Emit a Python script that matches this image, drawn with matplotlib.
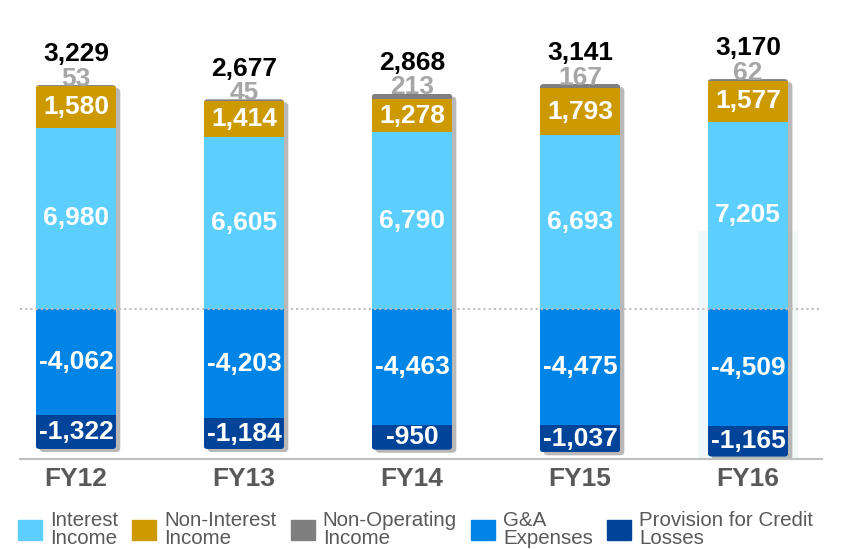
import matplotlib
matplotlib.use('Agg')
import matplotlib.pyplot as plt
import numpy as np
from matplotlib.patches import FancyBboxPatch, Patch

plt.rcParams['font.family'] = ['Liberation Sans', 'DejaVu Sans']

years = ['FY12', 'FY13', 'FY14', 'FY15', 'FY16']
interest = np.array([6980, 6605, 6790, 6693, 7205])
non_interest = np.array([1580, 1414, 1278, 1793, 1577])
non_operating = np.array([53, 45, 213, 167, 62])
ga_expenses = np.array([-4062, -4203, -4463, -4475, -4509])
provision = np.array([-1322, -1184, -950, -1037, -1165])
totals = interest + non_interest + non_operating + ga_expenses + provision

legend_labels = ['Interest\nIncome', 'Non-Interest\nIncome', 'Non-Operating\nIncome',
                 'G&A\nExpenses', 'Provision for Credit\nLosses']
colors = ['#5ccfff', '#cc9900', '#7f7f7f', '#0084e6', '#00449a']

W, H = 844, 549
fig = plt.figure(figsize=(W / 100, H / 100), dpi=100)
ax = fig.add_axes([20 / W, 1 - 459 / H, 802 / W, 459 / H])

xlim = (-0.333, 4.44)
ylim = (-5769, 11885)
ax.set_xlim(*xlim)
ax.set_ylim(*ylim)
px_x = 802 / (xlim[1] - xlim[0])   # pixels per x unit
px_y = 459 / (ylim[1] - ylim[0])   # pixels per y unit

x = np.arange(len(years))
w = 0.48

# faint highlight behind last year
ax.bar(x[-1], 3000 - ylim[0], bottom=ylim[0], width=100 / px_x, color='#f1f8f9', zorder=0)

tops = interest + non_interest + non_operating
bottoms = ga_expenses + provision

clips = []
for i in x:
    r = 4 / px_x
    aspect = px_x / px_y
    sh = FancyBboxPatch((i - w / 2 + 4 / px_x, bottoms[i] - 3 / px_y), w, tops[i] - bottoms[i],
                        boxstyle=f'round,pad=0,rounding_size={r}', mutation_aspect=aspect,
                        facecolor='#a6a6a6', edgecolor='none', alpha=0.8, zorder=1,
                        transform=ax.transData)
    ax.add_patch(sh)
    cp = FancyBboxPatch((i - w / 2, bottoms[i]), w, tops[i] - bottoms[i],
                        boxstyle=f'round,pad=0,rounding_size={r}', mutation_aspect=aspect,
                        facecolor='none', edgecolor='none', transform=ax.transData)
    clips.append(cp)

series = [
    (interest, 0),
    (non_interest, interest),
    (non_operating, interest + non_interest),
    (ga_expenses, 0),
    (provision, ga_expenses),
]
for (vals, base), c in zip(series, colors):
    bars = ax.bar(x, vals, bottom=base, width=w, color=c, zorder=2)
    for i, b in enumerate(bars):
        b.set_clip_path(clips[i])

lbl = dict(ha='center', va='center', color='white', fontweight='bold', fontsize=19, zorder=4)
for i in x:
    ax.text(i, interest[i] / 2, f'{interest[i]:,}', **lbl)
    ax.text(i, interest[i] + non_interest[i] / 2, f'{non_interest[i]:,}', **lbl)
    ax.text(i, ga_expenses[i] / 2, f'{ga_expenses[i]:,}', **lbl)
    ax.text(i, ga_expenses[i] + provision[i] / 2, f'{provision[i]:,}', **lbl)
    ax.annotate(f'{non_operating[i]:,}', (i, tops[i]), xytext=(0, -0.5), textcoords='offset points',
                ha='center', va='baseline', color='#a6a6a6', fontweight='bold', fontsize=19, zorder=4)
    ax.annotate(f'{totals[i]:,}', (i, tops[i]), xytext=(0, 17), textcoords='offset points',
                ha='center', va='baseline', color='black', fontweight='bold', fontsize=19, zorder=4)

ax.axhline(0, color='#bfbfbf', lw=1.5, ls=(0, (1, 1.5)), zorder=3)

for s in ['left', 'right', 'top']:
    ax.spines[s].set_visible(False)
ax.spines['bottom'].set_color('#bfbfbf')
ax.spines['bottom'].set_linewidth(1.5)
ax.set_yticks([])
ax.set_xticks(x, years)
ax.tick_params(axis='x', length=0, pad=6, labelsize=19, labelcolor='#595959')
for t in ax.get_xticklabels():
    t.set_fontweight('bold')

handles = [Patch(color=c) for c in colors]
leg = fig.legend(handles, legend_labels, loc='lower left', bbox_to_anchor=(18 / W, 0.002),
                 ncol=5, frameon=False, fontsize=14.8, handlelength=1.15, handleheight=1.15,
                 handletextpad=0.4, columnspacing=0.7, borderaxespad=0, borderpad=0,
                 labelcolor='#595959')
for t in leg.get_texts():
    t.set_linespacing(0.95)

fig.savefig('out.png', dpi=100)
